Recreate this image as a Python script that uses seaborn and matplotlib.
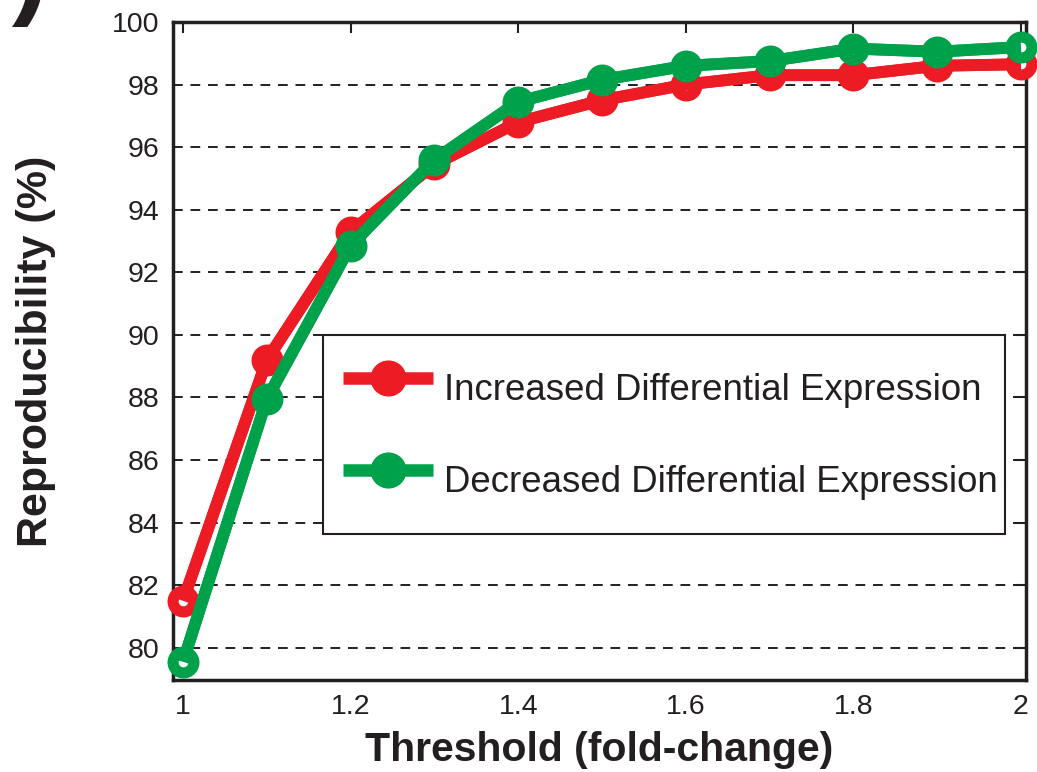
import numpy as np
import pandas as pd
import matplotlib
matplotlib.use("Agg")
import matplotlib.pyplot as plt
from matplotlib.lines import Line2D
import seaborn as sns

thresholds = [1.0, 1.1, 1.2, 1.3, 1.4, 1.5, 1.6, 1.7, 1.8, 1.9, 2.0]
increased = [81.5, 89.2, 93.3, 95.45, 96.8, 97.5, 98.0, 98.3, 98.3, 98.6, 98.65]
decreased = [79.55, 87.95, 92.85, 95.6, 97.45, 98.15, 98.6, 98.75, 99.15, 99.05, 99.2]
series_names = ["Increased Differential Expression", "Decreased Differential Expression"]
series_colors = ["#ED1C24", "#00A14B"]
y_ticks = [80, 82, 84, 86, 88, 90, 92, 94, 96, 98, 100]
x_ticks = [1, 1.2, 1.4, 1.6, 1.8, 2]
x_tick_labels = ["1", "1.2", "1.4", "1.6", "1.8", "2"]

sns.set_style("white")
plt.rcParams["font.family"] = ["Liberation Sans", "DejaVu Sans"]

fig = plt.figure(figsize=(10.37, 7.72), dpi=100)
ax = fig.add_axes([0.1668, 0.1192, 0.8226, 0.8523])

df = pd.DataFrame({
    "threshold": thresholds * 2,
    "value": increased + decreased,
    "series": [series_names[0]] * len(thresholds) + [series_names[1]] * len(thresholds),
})

z = 3
for name, color in zip(series_names, series_colors):
    sub = df[df["series"] == name]
    # ring markers first, then the line again on top so it crosses the rings
    sns.lineplot(data=sub, x="threshold", y="value",
                 color=color, linewidth=8.5, marker="o", markersize=15,
                 markerfacecolor="white", markeredgecolor=color,
                 markeredgewidth=8, ax=ax, legend=False, zorder=z,
                 clip_on=False)
    sns.lineplot(data=sub, x="threshold", y="value",
                 color=color, linewidth=8.5, ax=ax, legend=False,
                 zorder=z + 0.5, clip_on=False, solid_capstyle="butt")
    z += 1

ax.set_xlim(0.988, 2.006)
ax.set_ylim(78.97, 100.0)
ax.set_yticks(y_ticks)
ax.set_xticks(x_ticks)
ax.set_xticklabels(x_tick_labels)
ax.tick_params(axis="both", direction="in", length=8, width=1.5,
               top=True, right=True, labelsize=20.5, colors="#231F20",
               pad=10)
ax.yaxis.grid(True, linestyle=(0, (5, 4)), color="#231F20", linewidth=1.4)
ax.xaxis.grid(False)
ax.set_axisbelow(True)
for sp in ax.spines.values():
    sp.set_color("#231F20")
    sp.set_linewidth(2.5)

ax.set_xlabel("Threshold (fold-change)", fontsize=29.5, fontweight="bold",
              color="#231F20", labelpad=8)
ax.set_ylabel("Reproducibility (%)", fontsize=31, fontweight="bold",
              color="#231F20", labelpad=40)

handles = [Line2D([0], [0], color=c, linewidth=9, marker="o", markersize=25,
                  markerfacecolor=c, markeredgecolor=c, solid_capstyle="butt")
           for c in series_colors]
leg = ax.legend(handles, series_names, loc="upper left", mode="expand",
                bbox_to_anchor=(0.176, 0.220, 0.799, 0.304), fontsize=26.4,
                frameon=True, fancybox=False, framealpha=1.0,
                handlelength=2.45, handleheight=2.4, handletextpad=0.3,
                labelspacing=0.71, borderpad=0.55, borderaxespad=0)
leg.get_frame().set_edgecolor("#231F20")
leg.get_frame().set_linewidth(1.5)
leg.set_zorder(10)
for t in leg.get_texts():
    t.set_color("#231F20")

fig.text(0.048, 0.995, "b)", fontsize=80, fontweight="bold",
         color="#231F20", ha="right", va="baseline")

fig.savefig("out.png", dpi=100)
